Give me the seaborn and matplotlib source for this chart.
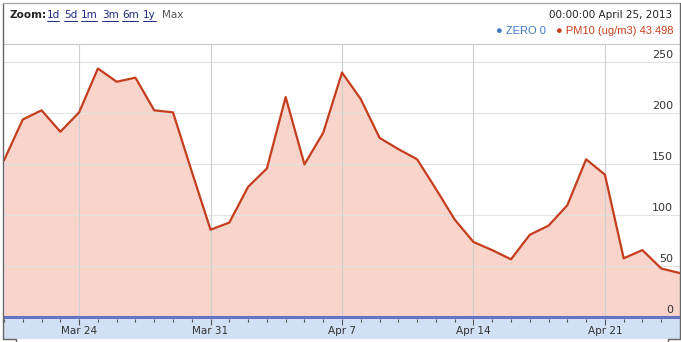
import matplotlib
matplotlib.use("Agg")
import matplotlib.pyplot as plt
import matplotlib.dates as mdates
from matplotlib.lines import Line2D
import numpy as np
import pandas as pd
import seaborn as sns

start_date = "2013-03-20"
pm10 = [154, 194, 203, 182, 201, 244, 231, 235, 203, 201, 143, 86, 93, 128,
        146, 216, 150, 181, 240, 214, 176, 165, 155, 126, 96, 74, 66, 57, 81,
        90, 110, 155, 140, 58, 66, 48, 43.498]
zero = [0] * len(pm10)
y_ticks = [0, 50, 100, 150, 200, 250]
zoom_links = ["1d", "5d", "1m", "3m", "6m", "1y"]

dates = pd.date_range(start_date, periods=len(pm10), freq="D")
df = pd.DataFrame({"date": dates, "pm10": pm10, "zero": zero})

W, H = 681, 342
sns.set_theme(style="white")
plt.rcParams["font.family"] = ["DejaVu Sans"]
fig = plt.figure(figsize=(W / 100, H / 100), dpi=100)

def fx(px):
    return px / W

def fy(py):
    return 1 - py / H

# main plot area
ax = fig.add_axes([fx(4), fy(319), fx(680) - fx(4), fy(44) - fy(319)])
ax.set_facecolor("white")
line_c = "#c43d1d"
fill_c = "#f8d4cb"
ax.fill_between(df["date"], df["pm10"], 0, color=fill_c, lw=0, zorder=1)
sns.lineplot(data=df, x="date", y="pm10", ax=ax, color=line_c, lw=1.6, zorder=4)
sns.lineplot(data=df, x="date", y="zero", ax=ax, color="#6273c4", lw=2.2, zorder=5)
ax.set_xlim(dates[0], dates[-1])
ax.set_ylim(-1.5, 268)
ax.set_yticks(y_ticks)
ax.set_yticklabels([])
ax.tick_params(left=False, bottom=False, labelbottom=False, labelleft=False)
ax.set_xlabel("")
ax.set_ylabel("")
for y in y_ticks[1:]:
    ax.axhline(y, color="#e2e2e2", lw=0.8, zorder=2)
week_ticks = pd.date_range("2013-03-24", dates[-1], freq="7D")
for d in week_ticks:
    ax.axvline(d, color="#cfcfcf", lw=0.8, zorder=2)
for y in y_ticks:
    ax.annotate(str(y), xy=(1, y), xycoords=ax.get_yaxis_transform(),
                xytext=(-5, 1.5), textcoords="offset points",
                ha="right", va="bottom", fontsize=8, color="#333333", zorder=6)
for s in ax.spines.values():
    s.set_visible(False)
ax.spines["top"].set_visible(True)
ax.spines["top"].set_color("#c8c8c8")
ax.spines["top"].set_linewidth(0.8)

# tick band
bx = fig.add_axes([fx(4), fy(339), fx(680) - fx(4), fy(319) - fy(339)], sharex=ax)
bx.set_facecolor("#d2e0f5")
bx.set_ylim(0, 1)
bx.set_yticks([])
for s in bx.spines.values():
    s.set_visible(False)
bx.xaxis.set_major_locator(matplotlib.ticker.FixedLocator(mdates.date2num(week_ticks)))
bx.xaxis.set_major_formatter(mdates.DateFormatter("%b %-d"))
bx.xaxis.set_minor_locator(mdates.DayLocator())
bx.tick_params(axis="x", which="both", top=True, bottom=False, direction="in",
               color="#555555", width=0.8, labeltop=False, labelbottom=True)
bx.tick_params(axis="x", which="major", length=4, pad=-9, labelsize=7.5,
               labelcolor="#333333")
bx.tick_params(axis="x", which="minor", length=2.5)

# frame
frame_c = "#666666"
fig.add_artist(Line2D([fx(3), fx(3)], [fy(3), fy(339)], color=frame_c, lw=1))
fig.add_artist(Line2D([fx(3), fx(680)], [fy(3), fy(3)], color="#aaaaaa", lw=1))
fig.add_artist(Line2D([fx(680), fx(680)], [fy(3), fy(339)], color=frame_c, lw=1))
fig.add_artist(Line2D([fx(3), fx(16), fx(16)], [fy(339), fy(339), fy(342)], color=frame_c, lw=1))
fig.add_artist(Line2D([fx(680), fx(668), fx(668)], [fy(339), fy(339), fy(342)], color=frame_c, lw=1))

# header
fig.text(fx(9), fy(15.5), "Zoom:", fontsize=7.5, fontweight="bold", color="#222222", va="center")
link_x = [47, 64, 81, 102, 122, 143]
link_w = [12, 13, 16, 16, 16, 13]
for lab, x0, w in zip(zoom_links, link_x, link_w):
    fig.text(fx(x0), fy(15.5), lab, fontsize=7.5, color="#1c2a80", va="center")
    fig.add_artist(Line2D([fx(x0), fx(x0 + w)], [fy(20.5), fy(20.5)], color="#1c2a80", lw=0.7))
fig.text(fx(162), fy(15.5), "Max", fontsize=7.5, color="#555555", va="center")

fig.text(fx(672), fy(15), "00:00:00 April 25, 2013", fontsize=7.5, color="#222222",
         ha="right", va="center")
fig.text(fx(673), fy(31), "\u25cf PM10 (ug/m3) 43.498", fontsize=8,
         family=["Liberation Sans", "DejaVu Sans"],
         color="#c8401e", ha="right", va="center")
fig.text(fx(546), fy(31), "\u25cf ZERO 0", fontsize=8,
         family=["Liberation Sans", "DejaVu Sans"], color="#3f78c0",
         ha="right", va="center")

fig.savefig("out.png", dpi=100)
